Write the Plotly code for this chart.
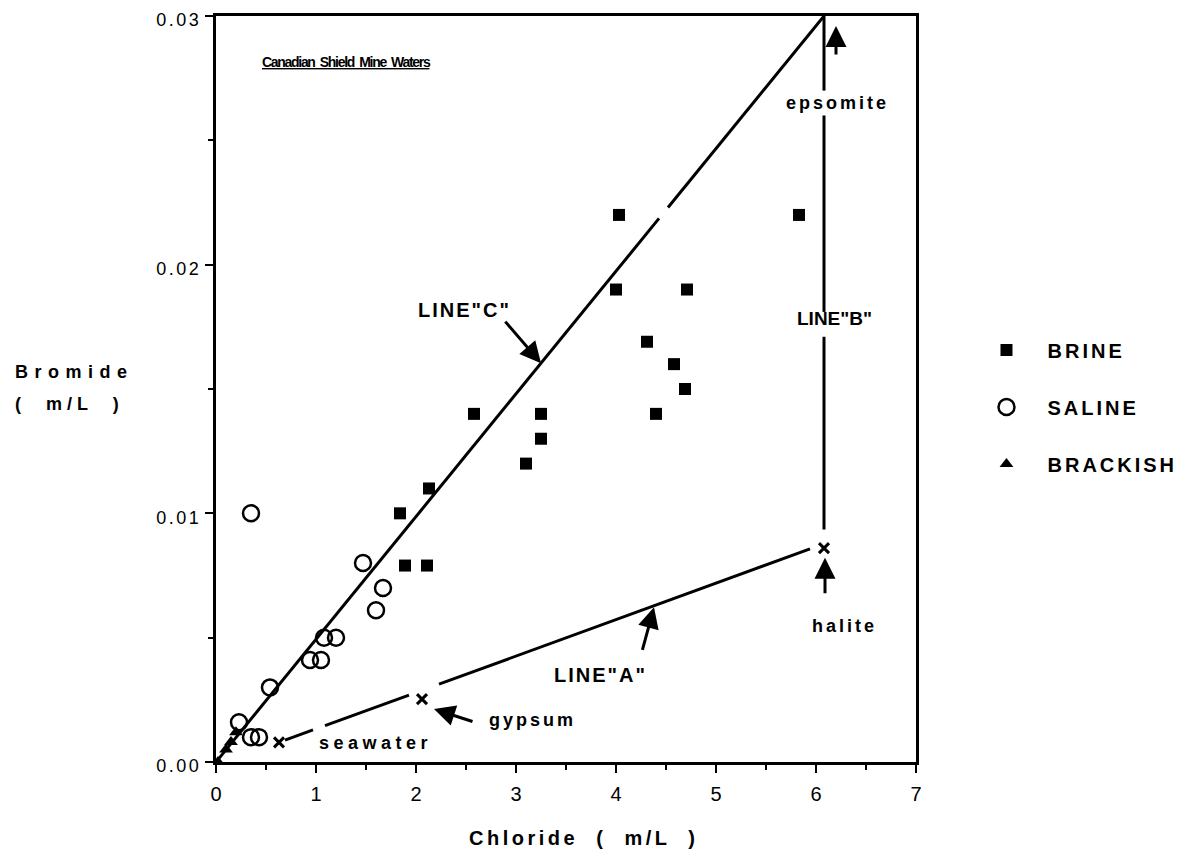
import plotly.graph_objects as go

# ---------------- data ----------------
brine_x = [4.03, 5.83, 4.00, 4.71, 4.31, 4.58, 4.69, 4.40, 3.25, 3.25, 2.58, 3.10, 2.13, 1.84, 1.89, 2.11]
brine_y = [0.022, 0.022, 0.019, 0.019, 0.0169, 0.016, 0.015, 0.014, 0.014, 0.013, 0.014, 0.012, 0.011, 0.010, 0.0079, 0.0079]

saline_x = [0.35, 1.47, 1.67, 1.60, 1.08, 1.20, 0.94, 1.05, 0.54, 0.23, 0.35, 0.43]
saline_y = [0.010, 0.0080, 0.0070, 0.0061, 0.0050, 0.0050, 0.0041, 0.0041, 0.0030, 0.0016, 0.0010, 0.0010]

brackish_x = [0.02, 0.10, 0.15, 0.20]
brackish_y = [0.0000, 0.0005, 0.0008, 0.0012]

# reference lines (segments separated by None where the original has gaps)
lineC_x = [0.0, 4.43, None, 4.52, 6.08]
lineC_y = [0.0, 0.02186, None, 0.02230, 0.0300]
lineA_x = [0.69, 0.97, None, 1.09, 1.93, None, 2.23, 5.94]
lineA_y = [0.00088, 0.00129, None, 0.00146, 0.00269, None, 0.00313, 0.00857]
lineB_x = [6.08, 6.08, None, 6.08, 6.08, None, 6.08, 6.08]
lineB_y = [0.0300, 0.0270, None, 0.0260, 0.0181, None, 0.0171, 0.00935]

mineral_names = ["seawater", "gypsum", "halite"]
mineral_x = [0.63, 2.06, 6.08]
mineral_y = [0.00079, 0.00253, 0.0086]

x_tickvals = [0, 1, 2, 3, 4, 5, 6, 7]
x_ticktext = ["0", "1", "2", "3", "4", "5", "6", "7"]
y_tickvals = [0.00, 0.01, 0.02, 0.03]
y_ticktext = ["0.00", "0.01", "0.02", "0.03"]

FONT = "Liberation Sans, Arial, Helvetica, sans-serif"


def sp(t, s=2):
    return '<span style="letter-spacing:%spx">%s</span>' % (s, t)


fig = go.Figure()

for lx, ly in [(lineC_x, lineC_y), (lineA_x, lineA_y), (lineB_x, lineB_y)]:
    fig.add_trace(go.Scatter(x=lx, y=ly, mode="lines",
                             line=dict(color="black", width=3), showlegend=False, hoverinfo="skip"))

fig.add_trace(go.Scatter(x=mineral_x, y=mineral_y, mode="markers", text=mineral_names,
                         marker=dict(symbol="x-thin", size=10, line=dict(color="black", width=3)),
                         showlegend=False, hoverinfo="skip"))

fig.add_trace(go.Scatter(x=brine_x, y=brine_y, mode="markers", name=sp("BRINE", 3),
                         legendgroup="a",
                         marker=dict(symbol="square", size=12, color="black")))
fig.add_trace(go.Scatter(x=saline_x, y=saline_y, mode="markers", name=sp("SALINE", 3),
                         legendgroup="b",
                         marker=dict(symbol="circle-open", size=16, color="black",
                                     line=dict(width=2.5, color="black"))))
fig.add_trace(go.Scatter(x=brackish_x, y=brackish_y, mode="markers", name=sp("BRACKISH", 3),
                         legendgroup="c",
                         marker=dict(symbol="triangle-up", size=12, color="black")))

ann = []


def text(x, y, t, size=18, family=FONT, **kw):
    d = dict(x=x, y=y, text=t, showarrow=False, xref="x", yref="y",
             font=dict(family=family, size=size, color="black"))
    d.update(kw)
    ann.append(d)


def arrow(x, y, ax, ay):
    ann.append(dict(x=x, y=y, ax=ax, ay=ay, text="", showarrow=True, xref="x", yref="y",
                    arrowhead=2, arrowsize=1.4, arrowwidth=3, arrowcolor="black"))


text(1.30, 0.02815, "<b><u>" + sp("Canadian  Shield  Mine  Waters", -1.3) + "</u></b>", size=14)
text(2.48, 0.01817, "<b>" + sp('LINE"C"', 2) + "</b>", size=20)
text(6.18, 0.01785, "<b>" + sp('LINE"B"', 0) + "</b>", size=19)
text(6.21, 0.02651, "<b>" + sp("epsomite", 3) + "</b>")
text(6.28, 0.005455, "<b>" + sp("halite", 3) + "</b>")
text(3.84, 0.00349, "<b>" + sp('LINE"A"', 2) + "</b>", size=20)
text(3.16, 0.00170, "<b>" + sp("gypsum", 3) + "</b>")
text(1.595, 0.00076, "<b>" + sp("seawater", 4.5) + "</b>")

arrow(3.25, 0.01604, -37, -43)
arrow(6.20, 0.0296, 0, 30)
arrow(6.09, 0.00821, 0, 37)
arrow(4.38, 0.00622, -12, 44)
arrow(2.18, 0.00213, 40, 13)

# axis titles
ann.append(dict(x=-0.2906, y=0.5228, xref="paper", yref="paper", xanchor="left", yanchor="middle",
                showarrow=False, text="<b>" + sp("Bromide", 6.5) + "</b>",
                font=dict(family=FONT, size=18, color="black")))
ann.append(dict(x=-0.2906, y=0.4799, xref="paper", yref="paper", xanchor="left", yanchor="middle",
                showarrow=False, text="<b>" + sp("(  m/L  )", 5) + "</b>",
                font=dict(family=FONT, size=18, color="black")))
ann.append(dict(x=0.5256, y=-0.1019, xref="paper", yref="paper", xanchor="center", yanchor="middle",
                showarrow=False, text="<b>" + sp("Chloride  (  m/L  )", 3.5) + "</b>",
                font=dict(family=FONT, size=20, color="black")))

axis_common = dict(ticks="outside", ticklen=8, tickwidth=2, tickcolor="black",
                   showline=True, linecolor="black", linewidth=3, mirror=True,
                   showgrid=False, zeroline=False, automargin=False,
                   ticklabeloverflow="allow")

fig.update_layout(
    width=1183, height=855,
    margin=dict(l=208, r=273, t=8, b=101),
    plot_bgcolor="white", paper_bgcolor="white",
    annotations=ann,
    font=dict(family=FONT, size=18, color="black"),
    legend=dict(x=1.0707, y=0.5784, xanchor="left", yanchor="top",
                font=dict(family=FONT, size=20, color="black", weight="bold"),
                tracegroupgap=28, itemwidth=72, bgcolor="rgba(0,0,0,0)"),
    xaxis=dict(range=[0, 7], tickvals=x_tickvals, ticktext=x_ticktext, ticklabelstandoff=4,
               tickfont=dict(family=FONT, size=20, color="black"),
               minor=dict(dtick=0.5, ticks="outside", ticklen=5, tickwidth=2, tickcolor="black",
                          showgrid=False),
               **axis_common),
    yaxis=dict(range=[0, 0.03], tickvals=y_tickvals,
               ticktext=[sp(t, 2.5) for t in y_ticktext],
               tickfont=dict(family=FONT, size=18, color="black"),
               ticklabelshift=4,
               minor=dict(dtick=0.005, ticks="outside", ticklen=5, tickwidth=2, tickcolor="black",
                          showgrid=False),
               **axis_common),
)

fig.write_html("out.html")
